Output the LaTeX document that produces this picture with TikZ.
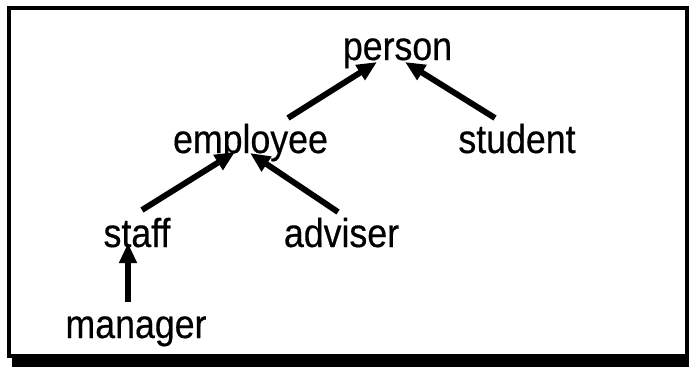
\documentclass[tikz,border=0pt]{standalone}
\usepackage{fontspec}
\setmainfont{Liberation Sans}
% narrower, taller face for the class names
\newfontfamily\clsfont[FakeStretch=0.885, FakeBold=0.4]{Liberation Sans}
\usepackage{tikz}
\usetikzlibrary{arrows.meta}

\begin{document}
\begin{tikzpicture}[x=0.025cm, y=-0.025cm,
    cls/.style={anchor=base, inner sep=0pt, font=\clsfont\fontsize{28.7pt}{34pt}\selectfont},
    isa/.style={line width=4.2pt, -{Triangle[length=0.5cm, width=0.42cm]}}]
    \useasboundingbox (0,0) rectangle (689,369);

    % Frame with shadow
    \draw[line width=2.5pt] (9,8) rectangle (687,356);
    \fill (12,357) rectangle (689,367);

    % Classes
    \node[cls] (person)   at (397.5,60) {person};
    \node[cls] (employee) at (250.5,153) {employee};
    \node[cls] (student)  at (517,153) {student};
    \node[cls] (staff)    at (137,247) {staff};
    \node[cls] (adviser)  at (341.5,247) {adviser};
    \node[cls] (manager)  at (136,338) {manager};

    % Inheritance
    \draw[isa] ([shift={(37.5,-35)}]employee.base) -- ([shift={(-20.5,2)}]person.base);
    \draw[isa] ([shift={(-22,-35)}]student.base) -- ([shift={(7.5,2)}]person.base);
    \draw[isa] ([shift={(5,-37)}]staff.base) -- ([shift={(-15.5,-1)}]employee.base);
    \draw[isa] ([shift={(-3.5,-35)}]adviser.base) -- ([shift={(-0.5,0)}]employee.base);
    \draw[isa] ([shift={(-8,-36)}]manager.base) -- ([shift={(-9,-4)}]staff.base);
\end{tikzpicture}
\end{document}
